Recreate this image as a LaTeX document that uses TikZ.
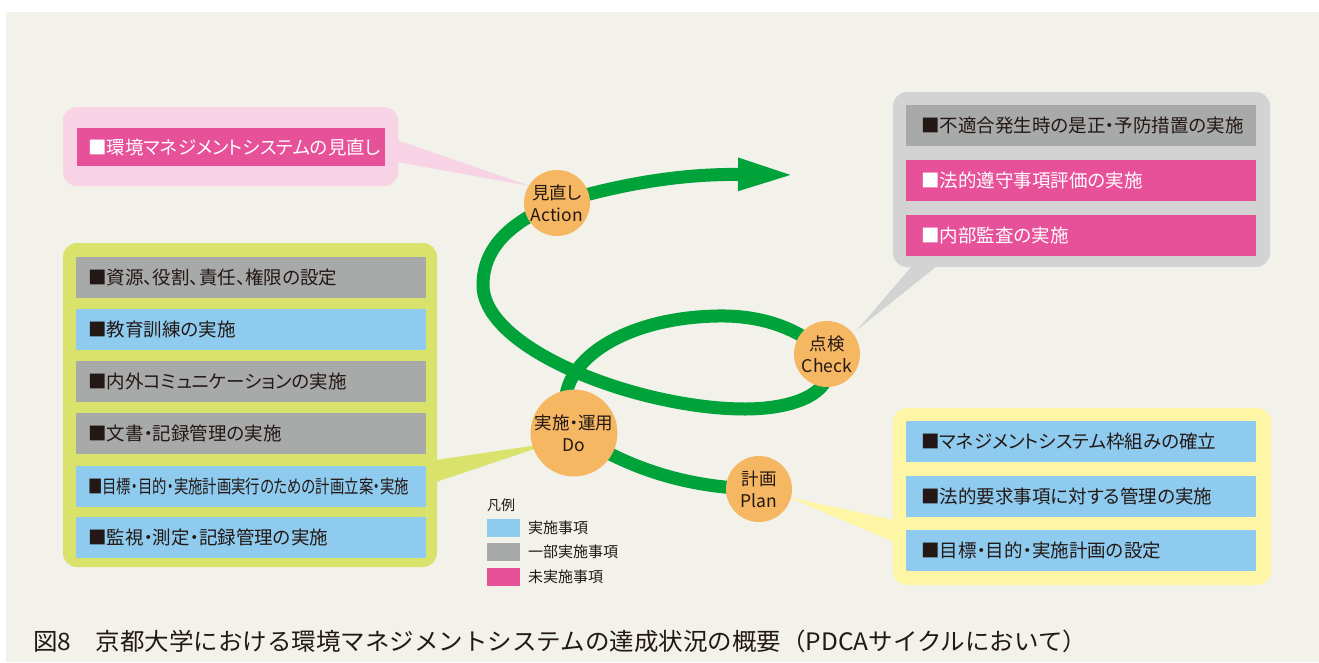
\documentclass[tikz,border=0pt]{standalone}
\usepackage{fontspec}
\setmainfont{Noto Sans CJK JP}[RawFeature=+palt]
\newfontfamily\capfont{Noto Sans CJK JP}
\usetikzlibrary{arrows.meta}
\definecolor{bgbeige}{HTML}{F2F1EA}
\definecolor{pinkbox}{HTML}{F8D3E5}
\definecolor{magrow}{HTML}{E6519A}
\definecolor{graybox}{HTML}{D3D3D3}
\definecolor{grayrow}{HTML}{A8A9A9}
\definecolor{greenbox}{HTML}{D9E26A}
\definecolor{bluerow}{HTML}{8ECBEF}
\definecolor{yellowbox}{HTML}{FFF6A5}
\definecolor{orangec}{HTML}{F6B762}
\definecolor{flowgreen}{HTML}{00A23A}
\definecolor{ink}{HTML}{231815}
\pgfdeclarelayer{back}
\pgfdeclarelayer{mid}
\pgfsetlayers{back,mid,main}
\begin{document}
\begin{tikzpicture}[x=1pt,y=-1pt,
  rowbox/.style={anchor=north west, minimum height=41pt, inner ysep=0pt,
    align=left, font=\fontsize{18.5}{20}\selectfont, text=ink},
  leftrow/.style={rowbox, inner xsep=12pt, text width=326pt},
  rightrow/.style={rowbox, inner xsep=15pt, text width=320pt},
  phase/.style={circle, fill=orangec, minimum size=66pt, inner sep=0pt,
    align=center, text=ink, font=\fontsize{17.5}{22}\selectfont},
  flow/.style={draw=flowgreen, line width=13pt},
  swatch/.style={minimum width=33pt, minimum height=18pt, inner sep=0pt},
  legtext/.style={anchor=west, inner sep=0pt, text=ink, font=\fontsize{15}{17}\selectfont},
]
\useasboundingbox (0,0) rectangle (1319,662);
\begin{pgfonlayer}{back}
  \fill[white] (0,0) rectangle (1319,662);
  \fill[bgbeige] (6,12) rectangle (1319,662);
  % pink callout
  \fill[pinkbox, rounded corners=14pt] (63,107) rectangle (398,186);
  \fill[pinkbox] (397,140) -- (530,186) -- (397,162) -- cycle;
  % gray callout
  \fill[graybox, rounded corners=14pt] (893,92) rectangle (1270,267);
  \fill[graybox] (912,266) -- (857,330) -- (937,266) -- cycle;
  % green callout
  \fill[greenbox, rounded corners=14pt] (63,243) rectangle (437,567);
  \fill[greenbox] (436,460) -- (552,443) -- (436,482) -- cycle;
  % yellow callout
  \fill[yellowbox, rounded corners=14pt] (893,408) rectangle (1271,585);
  \fill[yellowbox] (894,520) -- (788,497) -- (894,542) -- cycle;
\end{pgfonlayer}

% phase circles
\node[phase] (action) at (557,203) {見直し\\Action};
\node[phase] (check) at (827,354) {点検\\Check};
\node[phase] (do) at (574,433) {実施・運用\\Do};
\node[phase] (plan) at (759,489) {計画\\Plan};
\coordinate (arrowend) at (796,175);

\begin{pgfonlayer}{mid}
  \draw[flow, -{Triangle[length=58pt,width=29pt]}]
    (plan.center) .. controls (690,488) and (630,470) .. (do.center)
    .. controls (540,375) and (610,318) .. (717,316)
    .. controls (765,315) and (800,330) .. (check.center)
    .. controls (840,395) and (790,409) .. (745,409)
    .. controls (640,409) and (483,350) .. (483,285)
    .. controls (483,245) and (515,220) .. (action.center)
    .. controls (640,178) and (700,174) .. (arrowend);
\end{pgfonlayer}

% pink rows
\node[rowbox, fill=magrow, text=white, minimum height=38pt, inner xsep=11pt, text width=286pt] (p1) at (77,128) {■環境マネジメントシステムの見直し};

% gray callout rows
\node[rightrow, fill=grayrow] (c1) at (906,105) {■不適合発生時の是正・予防措置の実施};
\node[rightrow, fill=magrow, text=white] (c2) at (906,160) {■法的遵守事項評価の実施};
\node[rightrow, fill=magrow, text=white] (c3) at (906,215) {■内部監査の実施};

% green callout rows
\node[leftrow, fill=grayrow] (d1) at (76,257) {■資源、役割、責任、権限の設定};
\node[leftrow, fill=bluerow] (d2) at (76,309) {■教育訓練の実施};
\node[leftrow, fill=grayrow] (d3) at (76,361) {■内外コミュニケーションの実施};
\node[leftrow, fill=grayrow] (d4) at (76,413) {■文書・記録管理の実施};
\node[leftrow, fill=bluerow] (d5) at (76,466) {\resizebox{321pt}{\height}{■目標・目的・実施計画実行のための計画立案・実施}};
\node[leftrow, fill=bluerow] (d6) at (76,517) {■監視・測定・記録管理の実施};

% yellow callout rows
\node[rightrow, fill=bluerow] (y1) at (906,421) {■マネジメントシステム枠組みの確立};
\node[rightrow, fill=bluerow] (y2) at (906,476) {■法的要求事項に対する管理の実施};
\node[rightrow, fill=bluerow] (y3) at (906,530) {■目標・目的・実施計画の設定};

% legend
\node[anchor=west, inner sep=0pt, text=ink, font=\fontsize{14}{16}\selectfont] (legtitle) at (487,505) {凡例};
\node[swatch, fill=bluerow] (sw1) at (503.5,528) {};
\node[swatch, fill=grayrow] (sw2) at (503.5,552) {};
\node[swatch, fill=magrow] (sw3) at (503.5,577) {};
\node[legtext] (lt1) at (528,528) {実施事項};
\node[legtext] (lt2) at (528,552) {一部実施事項};
\node[legtext] (lt3) at (528,577) {未実施事項};

% caption
\node[anchor=west, inner sep=0pt, text=ink, font=\capfont\fontsize{24}{26}\selectfont] (caption) at (33,641)
  {\resizebox{1054pt}{\height}{図8　京都大学における環境マネジメントシステムの達成状況の概要（PDCAサイクルにおいて）}};
\end{tikzpicture}
\end{document}
